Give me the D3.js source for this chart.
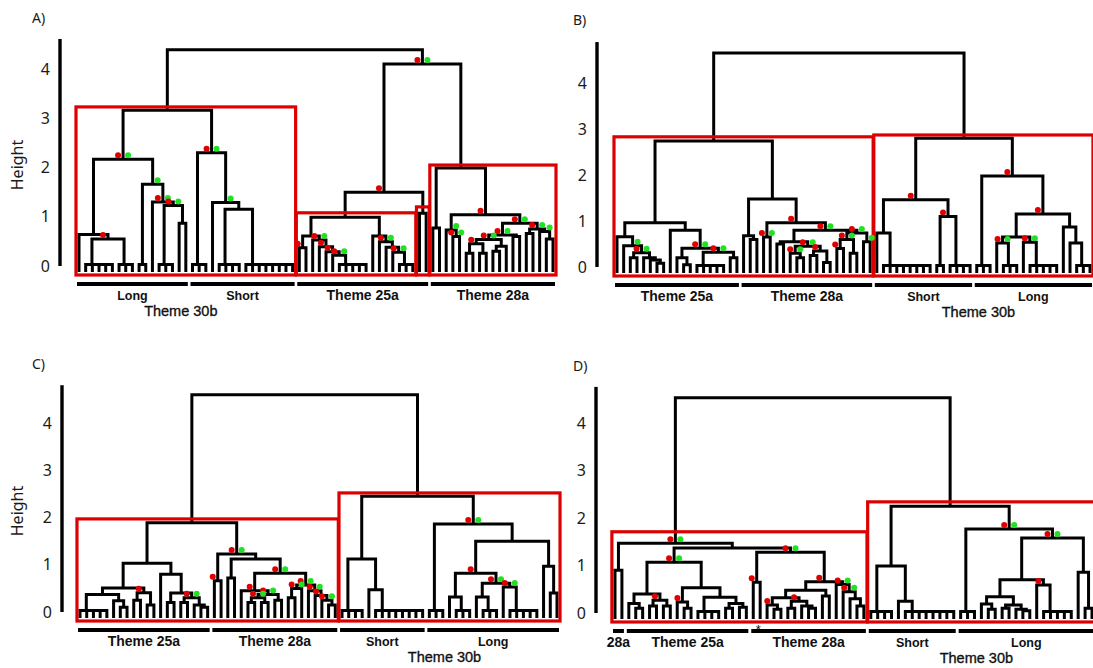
<!DOCTYPE html>
<html><head><meta charset="utf-8">
<script src="https://cdn.jsdelivr.net/npm/d3@7"></script>
<style>body{margin:0;background:#fff}svg{display:block}</style>
</head><body>
<svg id="chart" width="1093" height="668"></svg>
<script>
// ---------------- DATA ----------------
// Trees: "x" = leaf, "cN" = chain of N leaves joined near 0,
// "(a,b)h" = merge at height h; flags after h: r = red dot, g = green dot, B<top> = red cluster box.
const heightTicks = [0, 1, 2, 3, 4];
const panelLetters = ["A)", "B)", "C)", "D)"];
const axisTitle = "Height";
const superLabel = "Theme 30b";

// Panel A
const A_long = "((x,(c5,c3)0.55r)0.64,(c2,(x,(c3,(x,x)0.87)1.23rg)1.30rg)1.66g)2.17rg";
const A_short = "(c3,(x,(c4,c8)1.15)1.29g)2.30rg";
const A_25a = "(((x,x)0.37r,(x,(x,(x,(x,c5)0.22rg)0.29r)0.39r)0.53rg)0.61,(x,(x,(x,(x,c3)0.28rg)0.38)0.49rg)0.61)0.99B1.08";
const A_pair = "(x,x)1.07B1.2";
const A_28a_left = "(x,(x,x)0.6rg)0.73g";
const A_28a_mid = "((((x,x)0.26,(x,x)0.26)0.45r,((x,x)0.3,x)0.4)0.54rg,(x,x)0.6)0.63rg";
const A_28a_right = "((x,x)0.66,(x,(x,x)0.55)0.7g)0.75rg";
const A_28a = `((x,x)0.77,(${A_28a_left},(${A_28a_mid},${A_28a_right})0.87rg)1.04r)1.99B2.05`;
const treeA = `((${A_long},${A_short})3.16B3.23,((${A_25a},${A_pair})1.50r,${A_28a})4.10rg)4.39`;
const groupsA = ["Long", "Short", "Theme 25a", "Theme 28a"];
const sizesA = [17, 16, 20, 19];

// Panel B
const B_25a = "((x,(x,((x,x)0.2,(x,(x,(x,x)0.08)0.15)0.2)0.31rg)0.46g)0.66,(x,((x,(x,x)0.05)0.2,(c5,(x,x)0.2)0.32rg)0.41rg)0.8)0.96";
const B_28a_a = "((x,x)0.5,((x,(x,x)0.2)0.3rg,((x,x)0.25,(x,x)0.1)0.35r)0.45rg)0.55";
const B_28a_b = "(((x,x)0.4r,(x,x)0.3)0.6rg,(x,x)0.55g)0.74rg";
const B_28a = `((x,(x,x)0.6)0.68,((x,x)0.65rg,(${B_28a_a},${B_28a_b})0.8rg)0.96r)1.48`;
const B_short = "((x,c8)0.74,(c2,c4)1.1r)1.46r";
const B_long = "(c3,(((x,c3)0.52rg,(x,c5)0.54rg)0.65,(x,(x,c3)0.52)0.87)1.15r)1.98r";
const treeB = `((${B_25a},${B_28a})2.74B2.83,(${B_short},${B_long})2.80B2.87)4.65`;
const groupsB = ["Theme 25a", "Theme 28a", "Short", "Long"];
const sizesB = [19, 20, 15, 18];

// Panel C
const C_25a = "(((c5,(x,(x,x)0.1)0.24)0.37,((x,x)0.25,(x,x)0.15)0.41r)0.51,(x,((x,x)0.2,((x,x)0.2,(x,(x,x)0.1)0.15)0.3rg)0.4)0.8)1.03";
const C_28a_a = "(x,(((x,x)0.2,(x,x)0.2)0.3rg,(x,x)0.25)0.37rg)0.45r";
const C_28a_b = "(((x,x)0.3,x)0.5rg,(x,(x,(x,(x,x)0.15)0.25rg)0.35r)0.45rg)0.57rg";
const C_28a = `((x,x)0.66r,((x,x)0.72,(${C_28a_a},${C_28a_b})0.82rg)1.12)1.23rg`;
const C_short = "(c4,(x,c8)0.47)1.12";
const C_long = "(c3,(((x,c3)0.32,((x,c3)0.32,(x,c5)0.53rg)0.61rg)0.82r,(x,(x,x)0.4)0.97)1.5)1.86rg";
const treeC = `((${C_25a},${C_28a})1.89B1.97,(${C_short},${C_long})2.45B2.52)4.6`;
const groupsC = ["Theme 25a", "Theme 28a", "Short", "Long"];
const sizesC = [20, 19, 13, 20];

// Panel D
const D_pair = "(x,x)0.9";
const D_25a = "(((x,(x,x)0.1)0.2,((x,x)0.15,(x,x)0.15)0.27r)0.4,((x,(x,x)0.1)0.23r,(c4,((x,x)0.1,(x,x)0.12)0.2)0.33)0.53)1.07rg";
const D_28a_a = "(((x,(x,x)0.08)0.17r,((x,x)0.1,(x,(x,x)0.1)0.15)0.25r)0.32,(x,x)0.36)0.48";
const D_28a_b = "(x,(x,(x,(x,x)0.15)0.3)0.45rg)0.6rg";
const D_28a = `((x,x)0.65r,(${D_28a_a},${D_28a_b})0.66r)1.28rg`;
const D_short = "(c4,(x,c8)0.25)0.99";
const D_long = "(c3,((((x,(x,x)0.08)0.19,((x,x)0.1,(x,(x,x)0.05)0.08)0.17)0.34,(x,c5)0.59r)0.7,(x,(x,x)0.1)0.86)1.58rg)1.77rg";
const treeD = `((${D_pair},(${D_25a},${D_28a})1.37)1.47rgB1.71,(${D_short},${D_long})2.25B2.34)4.53`;
const groupsD = ["28a", "Theme 25a", "Theme 28a", "Short", "Long"];
const sizesD = [2, 18, 17, 13, 20];
const starredGroupD = "Theme 28a";

// ---------------- LAYOUT ----------------
const COMB_H = 0.03, LEAF_DROP = 6;
const panels = [
  {tree: treeA, groups: groupsA, sizes: sizesA, letter: panelLetters[0], lx: 32, ly: 23,
   x0: 79, x1: 553, y0: 266, y4: 69, axisX: 60, axisTopH: 4.61, title: true},
  {tree: treeB, groups: groupsB, sizes: sizesB, letter: panelLetters[1], lx: 573, ly: 25,
   x0: 617, x1: 1090, y0: 267, y4: 83, axisX: 597, axisTopH: 4.89, title: false},
  {tree: treeC, groups: groupsC, sizes: sizesC, letter: panelLetters[2], lx: 32, ly: 369,
   x0: 80, x1: 557, y0: 612, y4: 423, axisX: 62, axisTopH: 4.8, title: true},
  {tree: treeD, groups: groupsD, sizes: sizesD, letter: panelLetters[3], lx: 573, ly: 371,
   x0: 615, x1: 1092, y0: 613, y4: 423, axisX: 596, axisTopH: 4.76, title: false, star: starredGroupD}
];

const RED = "#e00000", GREEN = "#22e022", BOX = "#dd0000";
const TICK_FONT = "'Noto Sans', 'DejaVu Sans', sans-serif";
const LABEL_FONT = "'Liberation Sans', Arial, sans-serif";

function parseTree(s) {
  let i = 0;
  const num = () => { const m = /^\d*\.?\d+/.exec(s.slice(i)); i += m[0].length; return +m[0]; };
  function node() {
    if (s[i] === "x") { i++; return {}; }
    if (s[i] === "c") {
      i++; const n = num();
      let nd = {h: COMB_H, children: [{}, {}]};
      for (let k = 2; k < n; k++) nd = {h: COMB_H, children: [{}, nd]};
      return nd;
    }
    i++; // (
    const children = [node()];
    while (s[i] === ",") { i++; children.push(node()); }
    i++; // )
    const nd = {h: num(), children};
    while (i < s.length && "rgB".includes(s[i])) {
      const f = s[i++];
      if (f === "r") nd.red = true;
      else if (f === "g") nd.green = true;
      else nd.box = num();
    }
    return nd;
  }
  return node();
}

const svg = d3.select("#chart");

function drawPanel(p) {
  const g = svg.append("g");
  const root = d3.hierarchy(parseTree(p.tree));
  const leaves = root.leaves();
  leaves.forEach((l, k) => { l.idx = k; });
  const x = d3.scaleLinear().domain([0, leaves.length - 1]).range([p.x0, p.x1]);
  const y = d3.scaleLinear().domain([0, 4]).range([p.y0, p.y4]);
  const step = x(1) - x(0);

  root.eachAfter(d => {
    if (!d.children) { d.px = x(d.idx); d.py = p.y0 + LEAF_DROP; d.first = d.last = d.idx; }
    else {
      const c = d.children, a = c[0], b = c[c.length - 1];
      d.px = (a.px + b.px) / 2; d.py = y(d.data.h); d.first = a.first; d.last = b.last;
    }
  });

  // axis
  const axis = d3.axisLeft(y).tickValues(heightTicks).tickSize(0).tickPadding(10).tickFormat(d3.format("d"));
  const ax = g.append("g").attr("transform", `translate(${p.axisX},0)`).call(axis);
  ax.select(".domain").remove();
  ax.selectAll("text").attr("font-family", TICK_FONT).attr("font-size", 16).attr("fill", "#1a1a1a");
  g.append("line").attr("x1", p.axisX).attr("x2", p.axisX)
    .attr("y1", y(0)).attr("y2", y(p.axisTopH))
    .attr("stroke", "#000").attr("stroke-width", 3.4);

  if (p.title) {
    g.append("text").attr("transform", `translate(23,${p.y0 - 101}) rotate(-90)`)
      .attr("text-anchor", "middle").attr("font-family", TICK_FONT).attr("font-size", 16)
      .attr("fill", "#1a1a1a").text(axisTitle);
  }
  g.append("text").attr("x", p.lx).attr("y", p.ly).attr("font-family", TICK_FONT)
    .attr("font-size", 14).attr("fill", "#1a1a1a").text(p.letter);

  // dendrogram
  let path = "";
  root.each(d => {
    if (!d.children) return;
    const c = d.children, a = c[0], b = c[c.length - 1];
    path += `M${a.px},${a.py}V${d.py}H${b.px}V${b.py}`;
    for (let k = 1; k < c.length - 1; k++) path += `M${c[k].px},${c[k].py}V${d.py}`;
  });
  g.append("path").attr("d", path).attr("fill", "none").attr("stroke", "#000")
    .attr("stroke-width", 3).attr("stroke-linejoin", "miter").attr("stroke-linecap", "butt");

  // cluster boxes
  root.each(d => {
    if (d.data.box == null) return;
    const xa = x(d.first) - 0.45 * step, xb = x(d.last) + 0.45 * step;
    const yt = y(d.data.box), yb = p.y0 + 9;
    g.append("rect").attr("x", xa).attr("y", yt).attr("width", xb - xa).attr("height", yb - yt)
      .attr("fill", "none").attr("stroke", BOX).attr("stroke-width", 3.2);
  });

  // dots
  root.each(d => {
    if (d.data.red) g.append("circle").attr("cx", d.px - 5).attr("cy", d.py - 4).attr("r", 3).attr("fill", RED);
    if (d.data.green) g.append("circle").attr("cx", d.px + 5).attr("cy", d.py - 4).attr("r", 3).attr("fill", GREEN);
  });

  // group bars and labels
  let start = 0;
  const barY = p.y0 + 18, spans = {};
  p.groups.forEach((name, k) => {
    const n = p.sizes[k];
    const xa = x(start) - 2, xb = x(start + n - 1) + 2;
    spans[name] = [xa, xb];
    g.append("line").attr("x1", xa).attr("x2", xb).attr("y1", barY).attr("y2", barY)
      .attr("stroke", "#000").attr("stroke-width", 4);
    const small = name === "Long" || name === "Short";
    g.append("text").attr("x", (xa + xb) / 2).attr("y", p.y0 + 34).attr("text-anchor", "middle")
      .attr("font-family", LABEL_FONT).attr("font-weight", "bold").attr("font-size", small ? 12.5 : 14)
      .attr("fill", "#111").text(name);
    if (p.star === name) {
      g.append("text").attr("x", xa + 7).attr("y", barY + 3).attr("text-anchor", "middle")
        .attr("font-family", LABEL_FONT).attr("font-size", 13).attr("fill", "#111").text("*");
    }
    start += n;
  });
  const sx0 = Math.min(spans.Long[0], spans.Short[0]), sx1 = Math.max(spans.Long[1], spans.Short[1]);
  g.append("text").attr("x", (sx0 + sx1) / 2 - 5).attr("y", p.y0 + 50).attr("text-anchor", "middle")
    .attr("font-family", LABEL_FONT).attr("font-size", 14.5).attr("fill", "#111")
    .attr("stroke", "#111").attr("stroke-width", 0.35).text(superLabel);
}

panels.forEach(drawPanel);
</script>
</body></html>
